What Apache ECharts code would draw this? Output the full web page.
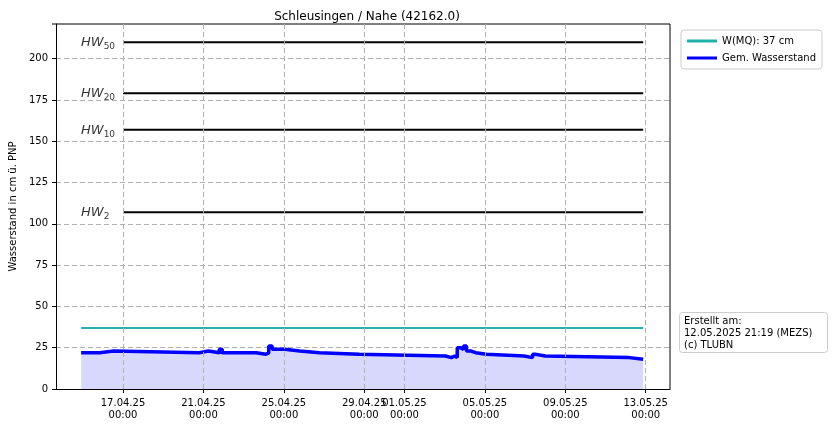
<!DOCTYPE html>
<html><head><meta charset="utf-8">
<script src="https://cdn.jsdelivr.net/npm/echarts@6/dist/echarts.min.js"></script>
<style>html,body{margin:0;padding:0;background:#fff}#c{width:834px;height:426px}</style>
</head><body><div id="c"></div>
<script>
const times = ['2025-04-14T22:00','2025-04-15T20:00','2025-04-16T13:00','2025-04-20T19:00','2025-04-21T06:00','2025-04-21T19:00','2025-04-21T22:30','2025-04-23T15:00','2025-04-24T02:40','2025-04-24T06:00','2025-04-24T10:00','2025-04-25T01:00','2025-04-25T19:00','2025-04-26T18:40','2025-04-28T18:00','2025-05-03T01:00','2025-05-03T08:00','2025-05-03T12:00','2025-05-03T15:00','2025-05-03T19:00','2025-05-03T22:30','2025-05-04T02:00','2025-05-04T07:00','2025-05-04T13:00','2025-05-05T02:00','2025-05-06T23:00','2025-05-07T09:00','2025-05-07T12:00','2025-05-08T00:00','2025-05-12T04:30','2025-05-12T21:00'];
const levels = [22,23,22,23,22,24,22,21,22,26,24,23,22,21,20,19,20,19,25,24,26,23,22,21,20,19,21,20,19,18,18];
const hwNames = ['50','20','10','2'];
const hwValues = [210,179,157,107];
const hwStart = '2025-04-17T00:00', hwEnd = '2025-05-12T21:00';
const mq = 37;
const tickDates = ['2025-04-17','2025-04-21','2025-04-25','2025-04-29','2025-05-01','2025-05-05','2025-05-09','2025-05-13'];
const yTicks = [0,25,50,75,100,125,150,175,200];

const ts = s => new Date(s + (s.length===10?'T00:00':'') + 'Z').getTime();
const tickTs = tickDates.map(ts);
const font = 'DejaVu Sans';
const pad = n => String(n).padStart(2,'0');
// step (hold previous value until next reading)
const stepData = [];
times.forEach((t,i)=>{ if(i>0) stepData.push([ts(t),levels[i-1]]); stepData.push([ts(t),levels[i]]); });
const series = [];
hwValues.forEach((v,i)=>{
  series.push({type:'line',silent:true,symbol:'none',lineStyle:{color:'#000',width:2},
    data:[[ts(hwStart),v],[ts(hwEnd),v]]});
});
series.push({type:'scatter',silent:true,symbolSize:0,
  data:hwValues.map((v,i)=>({value:[ts(hwStart),v],label:{show:true,position:[-42,-8],align:'left',
      formatter:'{i|HW}{s|'+hwNames[i]+'}',
      rich:{i:{fontStyle:'italic',fontSize:13,color:'#000',fontFamily:font},s:{fontSize:9,color:'#000',fontFamily:font,padding:[8,0,0,0]}}}}))});
series.push({name:'W(MQ): 37 cm',type:'line',symbol:'none',color:'#20b2aa',lineStyle:{color:'#20b2aa',width:2},
  data:[[ts(times[0]),mq],[ts(times[times.length-1]),mq]]});
series.push({name:'Gem. Wasserstand',type:'line',symbol:'none',color:'#0000ff',
  lineStyle:{color:'#0000ff',width:3.5},areaStyle:{color:'#d8d8fc',opacity:1},
  data:stepData,
  markLine:{silent:true,symbol:'none',label:{show:false},lineStyle:{color:'#b0b0b0',type:[5,3],width:1},
    data:tickTs.map(t=>({xAxis:t}))}});

const chart = echarts.init(document.getElementById('c'));
chart.setOption({
  animation:false,
  title:{text:'Schleusingen / Nahe (42162.0)',left:362,top:6,textAlign:'center',textStyle:{fontFamily:font,fontSize:12,fontWeight:'normal',color:'#000'}},
  grid:{left:52,right:164,top:24,bottom:37},
  legend:{right:12,top:30,orient:'vertical',itemWidth:30,itemHeight:3,itemGap:7,padding:[6,6],
    borderColor:'#ccc',borderWidth:1,borderRadius:3,icon:'rect',
    data:['W(MQ): 37 cm','Gem. Wasserstand'],textStyle:{fontFamily:font,fontSize:10,color:'#000'}},
  xAxis:{type:'value',min:ts('2025-04-13T16:00'),max:ts('2025-05-14T05:00'),
    axisLine:{onZero:false,lineStyle:{color:'#000'}},
    axisTick:{customValues:tickTs,length:4,lineStyle:{color:'#000'}},
    axisLabel:{customValues:tickTs,color:'#000',fontFamily:font,fontSize:10,lineHeight:12,hideOverlap:false,
      formatter:v=>{const d=new Date(v);return pad(d.getUTCDate())+'.'+pad(d.getUTCMonth()+1)+'.25\n00:00';}},
    splitLine:{show:false}},
  yAxis:{type:'value',min:0,max:221,name:'Wasserstand in cm ü. PNP',nameLocation:'middle',nameGap:38,
    nameTextStyle:{fontFamily:font,fontSize:10,color:'#000'},
    axisLine:{show:true,lineStyle:{color:'#000'}},
    axisTick:{show:true,customValues:yTicks,length:4,lineStyle:{color:'#000'}},
    axisLabel:{customValues:yTicks,color:'#000',fontFamily:font,fontSize:10},
    splitLine:{show:true,lineStyle:{color:'#b0b0b0',type:[5,3]}}},
  graphic:[{type:'rect',right:6,top:312,shape:{width:148,height:40,r:3},style:{fill:'#fff',stroke:'#ccc'}},
    {type:'text',left:684,top:315,style:{text:'Erstellt am:\n12.05.2025 21:19 (MEZS)\n(c) TLUBN',font:'10px DejaVu Sans',fill:'#000',lineHeight:12}},
    {type:'line',shape:{x1:670,y1:24,x2:670,y2:389},style:{stroke:'#000'}},
    {type:'line',shape:{x1:52,y1:24,x2:670,y2:24},style:{stroke:'#000'}}],
  series
});
</script></body></html>
